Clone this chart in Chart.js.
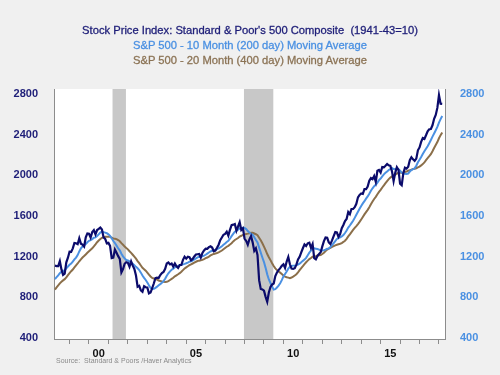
<!DOCTYPE html>
<html>
<head>
<meta charset="utf-8">
<script src="https://cdn.jsdelivr.net/npm/chart.js@4.4.0/dist/chart.umd.min.js"></script>
<style>
  body { margin: 0; background: #f0f0f0; }
  #wrap { position: relative; width: 500px; height: 375px; font-family: "Liberation Sans", Arial, sans-serif; }
  canvas { position: absolute; left: 0; top: 0; }
  .t { position: absolute; left: 0; width: 500px; text-align: center; font-size: 11.2px; line-height: 14px; white-space: pre; -webkit-text-stroke: 0.3px; }
  #src { position: absolute; left: 56px; top: 357px; font-size: 7px; line-height: 8px; color: #8a8a8a; white-space: pre; }
</style>
</head>
<body>
<div id="wrap">
  <canvas id="spxChart" width="500" height="375"></canvas>
  <div class="t" style="top:23px;color:#1e1e78">Stock Price Index: Standard &amp; Poor's 500 Composite  (1941-43=10)</div>
  <div class="t" style="top:38px;color:#4a90e2">S&amp;P 500 - 10 Month (200 day) Moving Average</div>
  <div class="t" style="top:53px;color:#8b7355">S&amp;P 500 - 20 Month (400 day) Moving Average</div>
  <div id="src">Source:  Standard &amp; Poors /Haver Analytics</div>
</div>
<script>
// monthly averages, Apr 1998 .. Mar 2018
const startYear = 1998;
const startMonth = 4;

const spx = [
  1112, 1108, 1108, 1157, 1075, 1021, 1033, 1144, 1190,
  1249, 1247, 1282, 1335, 1332, 1323, 1381, 1328, 1318, 1300, 1391, 1429,
  1426, 1389, 1442, 1461, 1419, 1462, 1473, 1486, 1468, 1390, 1375, 1331,
  1336, 1306, 1186, 1190, 1270, 1239, 1205, 1179, 1045, 1077, 1130, 1145,
  1140, 1101, 1154, 1112, 1079, 1014, 904, 913, 868, 855, 910, 899,
  896, 838, 847, 890, 936, 988, 993, 990, 1019, 1039, 1050, 1081,
  1133, 1143, 1124, 1133, 1103, 1133, 1106, 1089, 1118, 1118, 1169, 1199,
  1181, 1200, 1195, 1164, 1178, 1202, 1222, 1224, 1226, 1191, 1237, 1262,
  1279, 1277, 1294, 1302, 1290, 1253, 1260, 1287, 1318, 1363, 1389, 1416,
  1424, 1445, 1407, 1464, 1511, 1515, 1521, 1455, 1497, 1540, 1463, 1479,
  1379, 1355, 1317, 1371, 1403, 1341, 1257, 1282, 1217, 969, 883, 878,
  866, 805, 757, 848, 902, 926, 936, 1010, 1045, 1068, 1088, 1110,
  1124, 1089, 1152, 1197, 1125, 1083, 1080, 1087, 1122, 1172, 1199, 1242,
  1283, 1321, 1305, 1332, 1338, 1287, 1325, 1185, 1174, 1207, 1226, 1243,
  1301, 1353, 1389, 1386, 1341, 1324, 1360, 1403, 1443, 1438, 1395, 1422,
  1480, 1512, 1551, 1571, 1640, 1619, 1669, 1670, 1687, 1720, 1784, 1808,
  1822, 1817, 1864, 1864, 1890, 1947, 1973, 1962, 1993, 1937, 2045, 2054,
  2028, 2082, 2080, 2095, 2112, 2099, 2094, 2040, 1944, 2025, 2081, 2054,
  1919, 1904, 2022, 2076, 2066, 2084, 2149, 2178, 2158, 2143, 2165, 2247,
  2275, 2330, 2367, 2359, 2395, 2434, 2454, 2456, 2493, 2557, 2594, 2664,
  2790, 2705, 2703
];

const ma10 = [
  980, 998, 1016, 1038, 1051, 1059, 1068, 1086, 1103,
  1120, 1133, 1151, 1173, 1191, 1216, 1252, 1281, 1299, 1310, 1324, 1342,
  1356, 1362, 1373, 1387, 1390, 1404, 1419, 1438, 1446, 1442, 1437, 1431,
  1420, 1405, 1381, 1354, 1334, 1309, 1283, 1262, 1229, 1203, 1183, 1167,
  1162, 1153, 1142, 1129, 1116, 1100, 1086, 1069, 1043, 1014, 991, 971,
  945, 918, 894, 882, 885, 893, 905, 919, 930, 944, 959, 983,
  1012, 1037, 1056, 1071, 1082, 1096, 1105, 1110, 1116, 1120, 1124, 1129,
  1135, 1142, 1151, 1154, 1161, 1172, 1183, 1193, 1199, 1198, 1204, 1210,
  1219, 1230, 1241, 1251, 1258, 1261, 1265, 1274, 1282, 1292, 1303, 1317,
  1330, 1345, 1356, 1377, 1402, 1425, 1446, 1455, 1466, 1478, 1482, 1485,
  1482, 1472, 1452, 1438, 1426, 1415, 1391, 1365, 1340, 1289, 1240, 1192,
  1147, 1090, 1026, 976, 941, 905, 877, 881, 897, 916, 939, 969,
  1006, 1030, 1055, 1082, 1101, 1108, 1112, 1114, 1117, 1123, 1131, 1146,
  1159, 1171, 1189, 1214, 1240, 1260, 1280, 1282, 1279, 1276, 1270, 1262,
  1262, 1264, 1269, 1279, 1281, 1294, 1313, 1333, 1354, 1374, 1383, 1390,
  1399, 1412, 1433, 1458, 1486, 1507, 1530, 1553, 1582, 1612, 1642, 1672,
  1699, 1724, 1746, 1771, 1793, 1820, 1849, 1873, 1894, 1907, 1929, 1953,
  1969, 1991, 2010, 2025, 2039, 2053, 2063, 2073, 2063, 2060, 2065, 2062,
  2046, 2027, 2018, 2016, 2013, 2018, 2038, 2053, 2061, 2070, 2095, 2129,
  2154, 2180, 2210, 2237, 2262, 2287, 2317, 2348, 2381, 2412, 2444, 2477,
  2520, 2554, 2585
];

const ma20 = [
  875, 897, 917, 938, 954, 967, 979, 996, 1018,
  1038, 1057, 1074, 1095, 1115, 1133, 1155, 1174, 1192, 1206, 1222, 1238,
  1253, 1268, 1282, 1301, 1321, 1342, 1359, 1374, 1385, 1392, 1396, 1396,
  1396, 1396, 1386, 1379, 1377, 1373, 1364, 1352, 1333, 1317, 1301, 1286,
  1272, 1254, 1238, 1219, 1200, 1181, 1157, 1136, 1113, 1090, 1077, 1062,
  1043, 1023, 1005, 991, 985, 981, 974, 966, 960, 957, 952, 950,
  953, 960, 971, 982, 993, 1007, 1017, 1027, 1038, 1052, 1068, 1083,
  1095, 1106, 1116, 1125, 1133, 1141, 1150, 1157, 1161, 1164, 1169, 1176,
  1185, 1192, 1201, 1212, 1221, 1227, 1232, 1236, 1243, 1251, 1261, 1274,
  1286, 1298, 1307, 1319, 1333, 1350, 1364, 1374, 1384, 1398, 1406, 1415,
  1419, 1424, 1427, 1431, 1436, 1435, 1428, 1421, 1411, 1387, 1361, 1332,
  1299, 1264, 1226, 1195, 1166, 1135, 1109, 1085, 1068, 1054, 1043, 1030,
  1016, 1003, 998, 994, 989, 995, 1004, 1015, 1028, 1046, 1068, 1088,
  1107, 1127, 1145, 1161, 1176, 1187, 1199, 1202, 1205, 1211, 1215, 1217,
  1226, 1239, 1255, 1270, 1280, 1288, 1296, 1304, 1312, 1318, 1323, 1327,
  1334, 1345, 1357, 1376, 1399, 1420, 1442, 1463, 1483, 1501, 1521, 1542,
  1566, 1591, 1616, 1639, 1661, 1687, 1716, 1743, 1768, 1789, 1814, 1838,
  1858, 1881, 1901, 1923, 1944, 1963, 1978, 1990, 1996, 2006, 2017, 2027,
  2028, 2026, 2029, 2034, 2038, 2045, 2050, 2057, 2063, 2066, 2070, 2078,
  2086, 2098, 2111, 2127, 2150, 2170, 2189, 2209, 2238, 2270, 2299, 2328,
  2365, 2396, 2423
];

// recession bands (decimal years)
const recessions = [[2001.21, 2001.9], [2007.97, 2009.48]];

const yTicks = [400, 800, 1200, 1600, 2000, 2400, 2800];
const yearTicks = [1999, 2000, 2001, 2002, 2003, 2004, 2005, 2006, 2007, 2008, 2009,
                   2010, 2011, 2012, 2013, 2014, 2015, 2016, 2017, 2018];
const labelYears = [2000, 2005, 2010, 2015];

const FONT = '"Liberation Sans", Arial, sans-serif';

function toPoints(values) {
    return values.map((v, i) => ({ x: startYear + (startMonth - 1 + i) / 12, y: v }));
}

const backdrop = {
    id: 'backdrop',
    beforeDraw(chart) {
        const { ctx, chartArea: a, scales } = chart;
        ctx.save();
        ctx.fillStyle = '#ffffff';
        ctx.fillRect(a.left, a.top, a.right - a.left, a.bottom - a.top);
        ctx.fillStyle = '#c8c8c8';
        recessions.forEach(([s, e]) => {
            const x0 = scales.x.getPixelForValue(s);
            const x1 = scales.x.getPixelForValue(e);
            ctx.fillRect(x0, a.top, x1 - x0, a.bottom - a.top);
        });
        ctx.restore();
    }
};

const lineStyle = { borderWidth: 2, pointRadius: 0, tension: 0, fill: false };

const config = {
    type: 'line',
    data: {
        datasets: [
            { label: 'S&P 500', data: toPoints(spx), borderColor: '#0b0b6b', ...lineStyle, borderWidth: 2.2 },
            { label: '10 Month MA', data: toPoints(ma10), borderColor: '#4a90e2', ...lineStyle },
            { label: '20 Month MA', data: toPoints(ma20), borderColor: '#8b6f4a', ...lineStyle }
        ]
    },
    options: {
        responsive: false,
        animation: false,
        layout: { padding: { top: 89, left: 0, right: 0, bottom: 0 } },
        plugins: {
            legend: { display: false },
            tooltip: { enabled: false }
        },
        scales: {
            x: {
                type: 'linear',
                min: 1998.2,
                max: 2018.31,
                afterBuildTicks: s => { s.ticks = yearTicks.map(v => ({ value: v })); },
                afterFit: s => { s.height = 36; },
                grid: { drawOnChartArea: false, drawTicks: true, tickLength: 5, color: '#8c8c8c' },
                border: { color: '#8c8c8c', width: 1 },
                ticks: {
                    autoSkip: false,
                    maxRotation: 0,
                    labelOffset: 9.7,
                    padding: 3,
                    color: '#111111',
                    font: { size: 11, family: FONT, weight: 'bold' },
                    callback: v => labelYears.includes(v) ? String(v).slice(2) : ''
                }
            },
            y: {
                position: 'left',
                min: 390,
                max: 2850,
                afterBuildTicks: s => { s.ticks = yTicks.map(v => ({ value: v })); },
                afterFit: s => { s.width = 54; },
                grid: { display: false },
                border: { color: '#8c8c8c', width: 1 },
                ticks: { padding: 8, color: '#1e1e78', font: { size: 11, family: FONT, weight: 'bold' }, callback: v => String(v) }
            },
            y2: {
                position: 'right',
                min: 390,
                max: 2850,
                afterBuildTicks: s => { s.ticks = yTicks.map(v => ({ value: v })); },
                afterFit: s => { s.width = 55; },
                grid: { display: false },
                border: { color: '#8c8c8c', width: 1 },
                ticks: { padding: 7, color: '#4a90e2', font: { size: 11, family: FONT, weight: 'bold' }, callback: v => String(v) }
            }
        }
    },
    plugins: [backdrop]
};

const ctx = document.getElementById('spxChart').getContext('2d');
const myChart = new Chart(ctx, config);
</script>
</body>
</html>
